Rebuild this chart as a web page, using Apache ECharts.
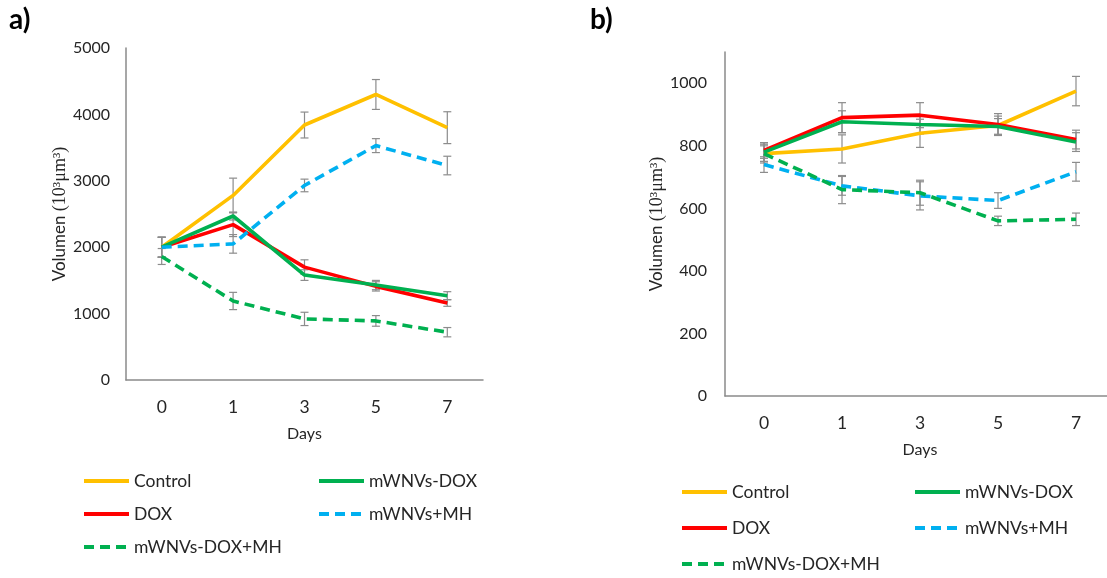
<!DOCTYPE html>
<html><head><meta charset="utf-8">
<script src="https://cdn.jsdelivr.net/npm/echarts@6/dist/echarts.min.js"></script>
<style>html,body{margin:0;padding:0;background:#fff;overflow:hidden}#c{width:1120px;height:578px}</style>
</head><body><div id="c"></div>
<script>
const days = ['0', '1', '3', '5', '7'];
const seriesNames = ['Control', 'DOX', 'mWNVs-DOX', 'mWNVs+MH', 'mWNVs-DOX+MH'];

// Panel a) values (10^3 µm^3)
const aControl = [2000, 2780, 3840, 4300, 3800];
const aDOX = [2000, 2340, 1700, 1410, 1160];
const aMwnvsDox = [2000, 2470, 1580, 1430, 1270];
const aMwnvsMH = [2000, 2050, 2930, 3530, 3230];
const aMwnvsDoxMH = [1860, 1190, 920, 890, 720];
// Panel a) error bars (±)
const aControlErr = [150, 260, 195, 225, 240];
const aDOXErr = [150, 180, 110, 70, 50];
const aMwnvsDoxErr = [150, 60, 80, 70, 60];
const aMwnvsMHErr = [150, 140, 95, 105, 140];
const aMwnvsDoxMHErr = [120, 130, 100, 80, 70];

// Panel b) values
const bControl = [775, 790, 840, 865, 975];
const bDOX = [785, 890, 898, 868, 820];
const bMwnvsDox = [780, 877, 868, 862, 812];
const bMwnvsMH = [740, 672, 640, 625, 717];
const bMwnvsDoxMH = [775, 660, 650, 560, 565];
// Panel b) error bars (±)
const bControlErr = [25, 45, 45, 30, 47];
const bDOXErr = [25, 48, 40, 35, 30];
const bMwnvsDoxErr = [30, 35, 30, 25, 30];
const bMwnvsMHErr = [25, 30, 45, 25, 30];
const bMwnvsDoxMHErr = [30, 45, 40, 15, 20];

const colors = ['#FFC000', '#FF0000', '#00B050', '#00B0F0', '#00B050'];
const dashed = [false, false, false, true, true];
const font = 'Lato, "Open Sans", sans-serif';
const serif = '"Liberation Serif", "DejaVu Serif", serif';
const textColor = '#262626';

const panels = [
  {vals: [aControl, aDOX, aMwnvsDox, aMwnvsMH, aMwnvsDoxMH],
   errs: [aControlErr, aDOXErr, aMwnvsDoxErr, aMwnvsMHErr, aMwnvsDoxMHErr]},
  {vals: [bControl, bDOX, bMwnvsDox, bMwnvsMH, bMwnvsDoxMH],
   errs: [bControlErr, bDOXErr, bMwnvsDoxErr, bMwnvsMHErr, bMwnvsDoxMHErr]}
];

function errRender(params, api) {
  const x = api.value(0);
  const lo = api.coord([x, api.value(1)]);
  const hi = api.coord([x, api.value(2)]);
  const cw = 4;
  const st = {stroke: '#8c8c8c', lineWidth: 1.2};
  return {type: 'group', children: [
    {type: 'line', shape: {x1: lo[0], y1: lo[1], x2: hi[0], y2: hi[1]}, style: st},
    {type: 'line', shape: {x1: lo[0] - cw, y1: lo[1], x2: lo[0] + cw, y2: lo[1]}, style: st},
    {type: 'line', shape: {x1: hi[0] - cw, y1: hi[1], x2: hi[0] + cw, y2: hi[1]}, style: st}
  ]};
}

const series = [];
panels.forEach((p, gi) => {
  p.vals.forEach((v, si) => {
    series.push({
      type: 'custom', name: 'err' + gi + '_' + si, xAxisIndex: gi, yAxisIndex: gi,
      renderItem: errRender, z: 1, silent: true,
      data: v.map((y, i) => [i, y - p.errs[si][i], y + p.errs[si][i]])
    });
  });
  p.vals.forEach((v, si) => {
    series.push({
      type: 'line', name: seriesNames[si], xAxisIndex: gi, yAxisIndex: gi,
      data: v, symbol: 'none', showSymbol: false, z: 3,
      color: colors[si],
      lineStyle: {color: colors[si], width: 3.6, type: dashed[si] ? [10, 6] : 'solid', cap: 'butt'}
    });
  });
});

function leg(name, left, cy) {
  return {data: [name], left: left, top: cy - 10, padding: 0, itemWidth: 45, itemHeight: 14,
    itemGap: 0, itemStyle: {opacity: 0}, lineStyle: {width: 4},
    textStyle: {fontFamily: font, fontSize: 17.5, color: textColor}, selectedMode: false};
}

const axisLineStyle = {show: true, lineStyle: {color: '#8a8a8a', width: 1.5}};
const yName = '{a|Volumen }{b|(10³μm³)}';
const yNameStyle = {rich: {a: {fontFamily: font, fontSize: 17, color: textColor},
  b: {fontFamily: serif, fontSize: 18, color: textColor}}};

const option = {
  animation: false,
  backgroundColor: '#fff',
  grid: [
    {left: 126, top: 48, width: 357, bottom: 198},
    {left: 725, top: 52, width: 390, bottom: 182}
  ],
  xAxis: [0, 1].map(i => ({
    type: 'category', gridIndex: i, data: days, boundaryGap: true,
    axisLine: axisLineStyle, axisTick: {show: false},
    axisLabel: {fontFamily: font, fontSize: 17.5, color: textColor, margin: 18},
    name: 'Days', nameLocation: 'middle', nameGap: 46,
    nameTextStyle: {fontFamily: font, fontSize: 16, color: textColor},
    splitLine: {show: false}
  })),
  yAxis: [
    {type: 'value', gridIndex: 0, min: 0, max: 5000, interval: 1000,
     axisLine: axisLineStyle, axisTick: {show: false}, splitLine: {show: false},
     axisLabel: {fontFamily: font, fontSize: 16, color: textColor, margin: 16, formatter: v => String(v)},
     name: yName, nameLocation: 'middle', nameGap: 55, nameTextStyle: yNameStyle},
    {type: 'value', gridIndex: 1, min: 0, max: 1100, interval: 200,
     axisLine: axisLineStyle, axisTick: {show: false}, splitLine: {show: false},
     axisLabel: {fontFamily: font, fontSize: 16, color: textColor, margin: 18, showMaxLabel: false,
       formatter: v => String(v)},
     name: yName, nameLocation: 'middle', nameGap: 59, nameTextStyle: yNameStyle}
  ],
  legend: [
    leg('Control', 82, 482), leg('mWNVs-DOX', 317, 482),
    leg('DOX', 82, 515), leg('mWNVs+MH', 317, 515),
    leg('mWNVs-DOX+MH', 82, 548),
    leg('Control', 680, 493), leg('mWNVs-DOX', 913, 493),
    leg('DOX', 680, 529), leg('mWNVs+MH', 913, 529),
    leg('mWNVs-DOX+MH', 680, 565)
  ],
  graphic: [
    {type: 'text', left: 9, top: 6, style: {text: 'a)', font: 'bold 28px ' + font, fill: '#000'}},
    {type: 'text', left: 590, top: 6, style: {text: 'b)', font: 'bold 28px ' + font, fill: '#000'}}
  ],
  series: series
};

const chart = echarts.init(document.getElementById('c'), null, {renderer: 'canvas'});
chart.setOption(option);
</script></body></html>
